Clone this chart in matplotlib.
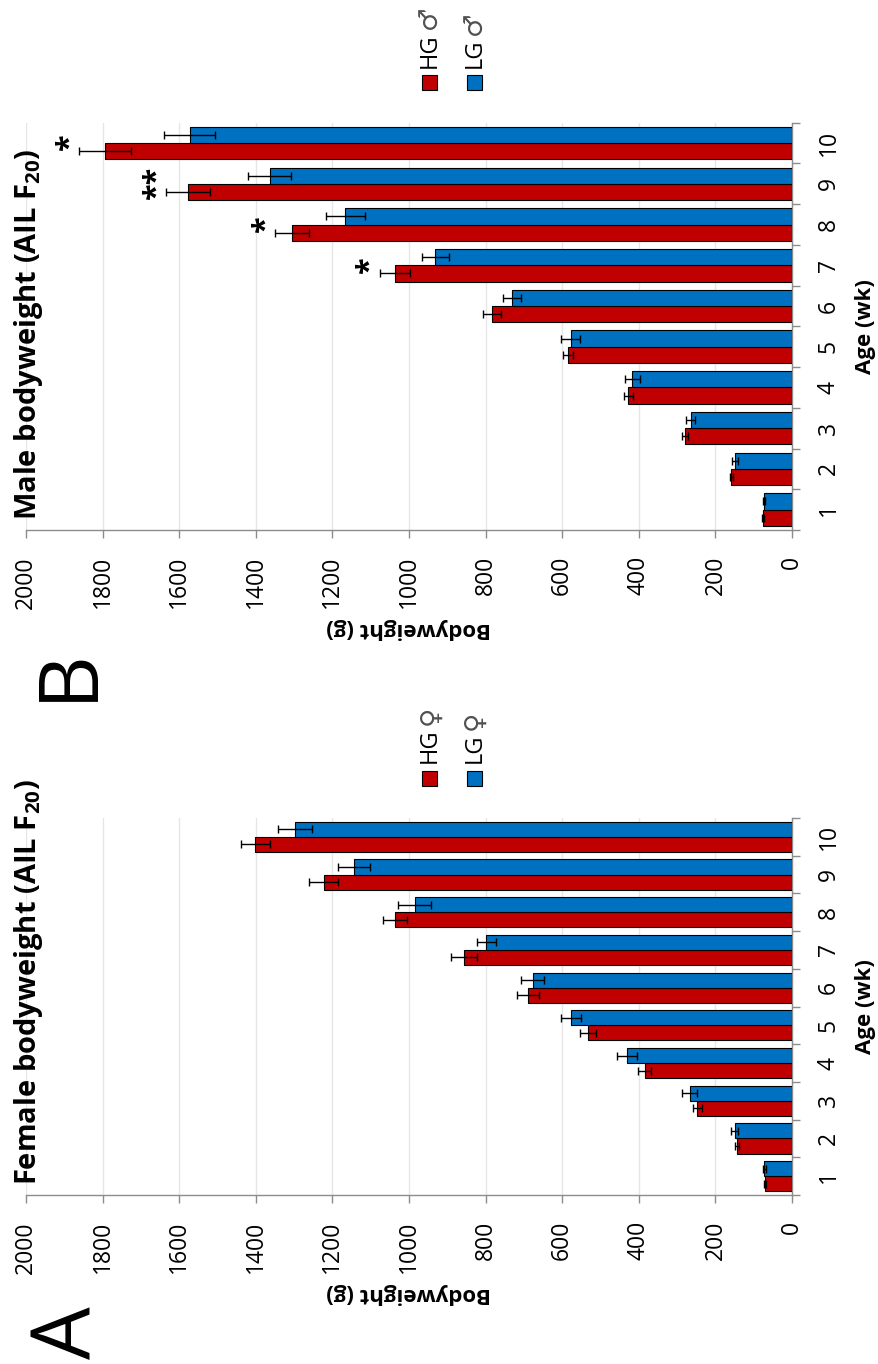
import matplotlib
matplotlib.use("Agg")
import matplotlib.pyplot as plt
from matplotlib.patches import Rectangle
import numpy as np

plt.rcParams["font.family"] = ["Open Sans", "DejaVu Sans"]
plt.rcParams["mathtext.fontset"] = "custom"
plt.rcParams["mathtext.rm"] = "Open Sans"
plt.rcParams["mathtext.bf"] = "Open Sans:bold"

# Age classes (weeks)
ages = ["1", "2", "3", "4", "5", "6", "7", "8", "9", "10"]

# Female bodyweight (g), mean and error
female_hg = [70, 144, 247, 385, 533, 690, 856, 1037, 1223, 1401]
female_hg_err = [3, 6, 11, 16, 20, 29, 34, 32, 37, 37]
female_lg = [72, 150, 267, 430, 576, 677, 798, 985, 1144, 1297]
female_lg_err = [3, 8, 19, 26, 26, 30, 24, 43, 42, 45]
female_sig = ["", "", "", "", "", "", "", "", "", ""]

# Male bodyweight (g), mean and error
male_hg = [76, 158, 279, 427, 585, 783, 1037, 1305, 1577, 1794]
male_hg_err = [3, 5, 8, 11, 12, 24, 40, 45, 58, 67]
male_lg = [74, 148, 265, 417, 578, 731, 931, 1166, 1364, 1573]
male_lg_err = [3, 8, 13, 19, 24, 23, 36, 50, 56, 67]
male_sig = ["", "", "", "", "", "", "*", "*", "**", "*"]

value_ticks = [0, 200, 400, 600, 800, 1000, 1200, 1400, 1600, 1800, 2000]

RED = "#C00000"
BLUE = "#0070C0"
GRAY = "#8C8C8C"
W, H, DPI = 879, 1364, 100

fig = plt.figure(figsize=(W / DPI, H / DPI), dpi=DPI)


def fx(x):
    return x / W


def fy(y):
    return 1 - y / H


def panel(box, hg, hg_err, lg, lg_err, sig, title, sym, letter, letter_pos):
    left, top, right, bottom = box
    ax = fig.add_axes([fx(left), fy(bottom), (right - left) / W, (bottom - top) / H])
    pos = np.arange(len(ages))
    ekw = dict(ecolor="black", elinewidth=1.0, capsize=3.2, capthick=1.0, zorder=4)
    ax.barh(pos - 0.2, hg, height=0.4, color=RED, edgecolor="black",
            linewidth=0.8, xerr=hg_err, error_kw=ekw, zorder=3)
    ax.barh(pos + 0.2, lg, height=0.4, color=BLUE, edgecolor="black",
            linewidth=0.8, xerr=lg_err, error_kw=ekw, zorder=3)

    # significance marks above the tallest error bar of each age class
    for i, s in enumerate(sig):
        if s:
            topv = max(hg[i] + hg_err[i], lg[i] + lg_err[i])
            ax.annotate(s, xy=(topv, pos[i]), xytext=(-1, 0),
                        textcoords="offset points", rotation=90,
                        rotation_mode="anchor", ha="center", va="baseline",
                        fontsize=22, fontweight="bold", zorder=5)

    ax.set_xlim(2000, 0)
    ax.set_ylim(-0.5, len(ages) - 0.5)
    ax.set_xticks(value_ticks)
    ax.set_xticklabels([str(v) for v in value_ticks])
    ax.tick_params(axis="x", direction="out", length=5.8, width=1, color=GRAY,
                   labelsize=16.5, pad=13, labelrotation=90)

    ax.yaxis.tick_right()
    ax.set_yticks(pos)
    ax.set_yticklabels(ages)
    ax.set_yticks(np.arange(-0.5, len(ages), 1), minor=True)
    ax.tick_params(axis="y", which="major", length=0, labelsize=16.5, pad=18,
                   labelrotation=90)
    ax.tick_params(axis="y", which="minor", direction="out", length=5.8,
                   width=1, color=GRAY, right=True, left=False)
    for lbl in ax.get_yticklabels():
        lbl.set_va("center")

    for side in ("top", "left"):
        ax.spines[side].set_visible(False)
    for side in ("bottom", "right"):
        ax.spines[side].set_color(GRAY)
        ax.spines[side].set_linewidth(1)

    ax.grid(axis="x", color="#E6E6E6", linewidth=1)
    ax.set_axisbelow(True)

    ax.set_xlabel("Bodyweight (g)", rotation=180, fontsize=16,
                  fontweight="bold", labelpad=7)
    ax.yaxis.set_label_position("right")
    ax.set_ylabel("Age (wk)", rotation=90, fontsize=16, fontweight="bold",
                  labelpad=10)

    fig.text(fx(left + 2.5), fy(bottom - 10), title, rotation=90, ha="center",
             va="bottom", fontsize=21, fontweight="bold")

    # legend: coloured squares with group names and sex symbols
    sq = 15
    for dx, col, name in ((404, RED, "HG"), (448.3, BLUE, "LG")):
        cx, cy = left + dx, top - 40
        fig.add_artist(Rectangle((fx(cx - sq / 2), fy(cy + sq / 2)), sq / W, sq / H,
                                 transform=fig.transFigure, facecolor=col,
                                 edgecolor="black", linewidth=0.8))
        t = fig.text(fx(cx), fy(cy - sq / 2 - 7), name, rotation=90,
                     ha="center", va="bottom", fontsize=17)
        ax.annotate(sym, xy=(0.5, 1), xycoords=t, xytext=(0, 3),
                    textcoords="offset points", rotation=90, ha="center",
                    va="bottom", fontsize=19, color="#505050",
                    family="DejaVu Sans", annotation_clip=False)

    fig.text(fx(letter_pos[0]), fy(letter_pos[1]), letter, rotation=90,
             ha="center", va="center", fontsize=60)
    return ax


panel((26, 818, 792, 1195), female_hg, female_hg_err, female_lg, female_lg_err,
      female_sig, r"Female bodyweight (AIL F$_{\mathbf{20}}$)", "\u2640", "A",
      (70, 1333))
panel((26, 122.7, 792, 530), male_hg, male_hg_err, male_lg, male_lg_err,
      male_sig, r"Male bodyweight (AIL F$_{\mathbf{20}}$)", "\u2642", "B",
      (70, 674))

fig.savefig("out.png", dpi=DPI)
